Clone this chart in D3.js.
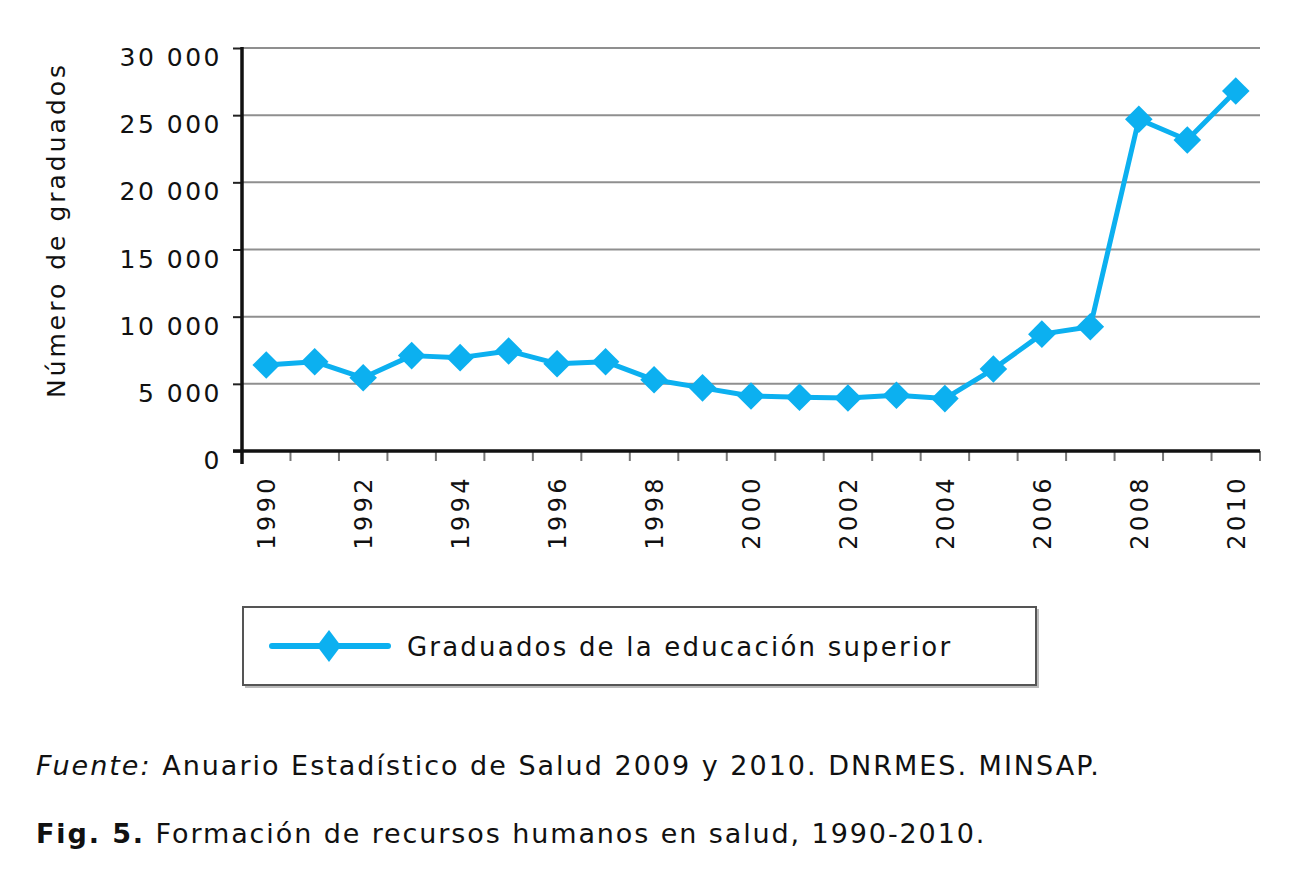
<!DOCTYPE html>
<html>
<head>
<meta charset="utf-8">
<script src="https://cdn.jsdelivr.net/npm/d3@7"></script>
<style>
  body { margin: 0; background: #fff; }
  svg { display: block; }
  text { font-family: 'DejaVu Sans', Verdana, sans-serif; fill: #111; }
</style>
</head>
<body>
<svg id="chart" width="1312" height="872"></svg>
<script>
// data
const years = ['1990', '1991', '1992', '1993', '1994', '1995', '1996', '1997', '1998', '1999', '2000',
  '2001', '2002', '2003', '2004', '2005', '2006', '2007', '2008', '2009', '2010'];
const graduados = [6400, 6650, 5450, 7100, 6950, 7450, 6500, 6650, 5300, 4700, 4100,
  4000, 3950, 4150, 3900, 6100, 8700, 9250, 24700, 23150, 26800];
const yTicks = [0, 5000, 10000, 15000, 20000, 25000, 30000];
const yearLabels = ['1990', '1992', '1994', '1996', '1998', '2000', '2002', '2004', '2006', '2008', '2010'];

const LINE_COLOR = '#0cb0f0';
const GRID_COLOR = '#8f8f8f';

const svg = d3.select('#chart');

const x = d3.scaleBand().domain(years).range([242, 1260]);
const y = d3.scaleLinear().domain([0, 30000]).range([451, 48]);

const fmt = (v) => d3.format(',')(v).replace(/,/g, ' ');

// gridlines
svg.append('g')
  .selectAll('line')
  .data(yTicks.filter((d) => d > 0))
  .join('line')
  .attr('x1', 242)
  .attr('x2', 1260)
  .attr('y1', (d) => y(d))
  .attr('y2', (d) => y(d))
  .attr('stroke', GRID_COLOR)
  .attr('stroke-width', 2);

// y axis
const yAxis = svg.append('g')
  .attr('transform', 'translate(242,0)')
  .call(d3.axisLeft(y).tickValues(yTicks).tickSize(9).tickFormat(fmt));
yAxis.select('.domain').remove();
yAxis.selectAll('.tick line').attr('stroke', '#222').attr('stroke-width', 2);
yAxis.selectAll('.tick text')
  .attr('x', -20)
  .attr('dy', '0.9em')
  .attr('y', -5)
  .attr('font-size', 25)
  .attr('letter-spacing', 2.5)
  .attr('fill', '#111');

// x axis: ticks at category boundaries
const bounds = years.map((d) => x(d)).concat([x.range()[1]]).slice(1);
svg.append('g')
  .selectAll('line')
  .data(bounds)
  .join('line')
  .attr('x1', (d) => d)
  .attr('x2', (d) => d)
  .attr('y1', 451)
  .attr('y2', 461)
  .attr('stroke', '#777')
  .attr('stroke-width', 2);

svg.append('line')
  .attr('x1', 233).attr('x2', 1260)
  .attr('y1', 451).attr('y2', 451)
  .attr('stroke', '#111').attr('stroke-width', 3.5);
svg.append('line')
  .attr('x1', 242).attr('x2', 242)
  .attr('y1', 47).attr('y2', 464)
  .attr('stroke', '#111').attr('stroke-width', 3.5);

svg.append('g')
  .selectAll('text')
  .data(yearLabels)
  .join('text')
  .attr('transform', (d) => `translate(${x(d) + x.bandwidth() / 2 + 9},475) rotate(-90)`)
  .attr('text-anchor', 'end')
  .attr('font-size', 24)
  .attr('letter-spacing', 3.4)
  .text((d) => d);

// y title
svg.append('text')
  .attr('transform', 'translate(65,230) rotate(-90)')
  .attr('text-anchor', 'middle')
  .attr('font-size', 25)
  .attr('letter-spacing', 3)
  .text('Número de graduados');

// series
const cx = (d, i) => x(years[i]) + x.bandwidth() / 2;
const line = d3.line()
  .x((d, i) => cx(d, i))
  .y((d) => y(d));

svg.append('path')
  .datum(graduados)
  .attr('d', line)
  .attr('fill', 'none')
  .attr('stroke', LINE_COLOR)
  .attr('stroke-width', 5)
  .attr('stroke-linejoin', 'round');

const diamond = d3.symbol().type(d3.symbolSquare).size(380);
svg.append('g')
  .selectAll('path')
  .data(graduados)
  .join('path')
  .attr('d', diamond)
  .attr('transform', (d, i) => `translate(${cx(d, i)},${y(d)}) rotate(45)`)
  .attr('fill', LINE_COLOR);

// legend
const legend = svg.append('g');
legend.append('rect')
  .attr('x', 245).attr('y', 609).attr('width', 794).attr('height', 79)
  .attr('fill', '#bbb');
legend.append('rect')
  .attr('x', 243).attr('y', 607).attr('width', 793).attr('height', 78)
  .attr('fill', '#fff').attr('stroke', '#555').attr('stroke-width', 2);
legend.append('line')
  .attr('x1', 272).attr('x2', 388).attr('y1', 646).attr('y2', 646)
  .attr('stroke', LINE_COLOR).attr('stroke-width', 6).attr('stroke-linecap', 'round');
legend.append('path')
  .attr('d', 'M0,-16L12,0L0,16L-12,0Z')
  .attr('transform', 'translate(329,646)')
  .attr('fill', LINE_COLOR);
legend.append('text')
  .attr('x', 407).attr('y', 656)
  .attr('font-size', 26)
  .attr('letter-spacing', 2.2)
  .text('Graduados de la educación superior');

// notes
const src = svg.append('text')
  .attr('x', 36).attr('y', 775)
  .attr('font-size', 27)
  .attr('letter-spacing', 2);
src.append('tspan').attr('font-style', 'italic').text('Fuente:');
src.append('tspan').text(' Anuario Estadístico de Salud 2009 y 2010. DNRMES. MINSAP.');

const cap = svg.append('text')
  .attr('x', 36).attr('y', 843)
  .attr('font-size', 27)
  .attr('letter-spacing', 1.9);
cap.append('tspan').attr('font-weight', 'bold').text('Fig. 5.');
cap.append('tspan').text(' Formación de recursos humanos en salud, 1990-2010.');
</script>
</body>
</html>
